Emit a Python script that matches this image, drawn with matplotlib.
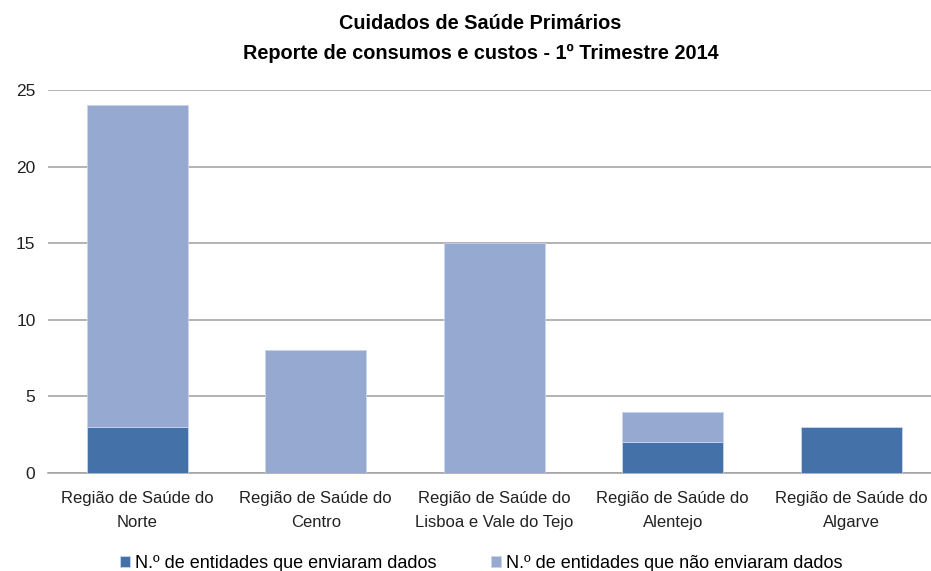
import matplotlib.pyplot as plt
import numpy as np

REGIONS = ['Região de Saúde do\nNorte', 'Região de Saúde do\nCentro',
           'Região de Saúde do\nLisboa e Vale do Tejo', 'Região de Saúde do\nAlentejo',
           'Região de Saúde do\nAlgarve']
ENVIARAM = [3, 0, 0, 2, 3]
NAO_ENVIARAM = [21, 8, 15, 2, 0]
LABELS = ['N.º de entidades que enviaram dados', 'N.º de entidades que não enviaram dados']
COLORS = ['#4472A8', '#95A9D1']
TITLE = 'Cuidados de Saúde Primários\nReporte de consumos e custos - 1º Trimestre 2014'

plt.rcParams['font.family'] = ['Liberation Sans', 'DejaVu Sans']

fig = plt.figure(figsize=(9.31, 5.71), dpi=100)
# plot area runs past the right edge of the picture, as in the reference
ax = fig.add_axes([48 / 931, 98 / 571, 892.5 / 931, 383 / 571])

x = np.arange(len(REGIONS))
b1 = ax.bar(x, ENVIARAM, width=0.566, color=COLORS[0], edgecolor='#C9D4EA', linewidth=0.6,
            label=LABELS[0], zorder=3)
b2 = ax.bar(x, NAO_ENVIARAM, width=0.566, bottom=ENVIARAM, color=COLORS[1], edgecolor='#C9D4EA',
            linewidth=0.6, label=LABELS[1], zorder=3)

ax.set_xlim(-0.5, len(REGIONS) - 0.5)
ax.set_ylim(0, 25)
ax.set_yticks(range(0, 26, 5))
ax.yaxis.grid(True, color='#A6A6A6', linewidth=1.2, zorder=0)
ax.set_axisbelow(True)
for s in ['top', 'right', 'left']:
    ax.spines[s].set_visible(False)
ax.spines['bottom'].set_color('#A6A6A6')
ax.spines['bottom'].set_linewidth(1.2)
ax.tick_params(axis='y', length=0, pad=9, labelsize=12.5, colors='#222222')
ax.tick_params(axis='x', length=0, pad=13, labelsize=12, colors='#222222')
ax.set_xticks(x)
ax.set_xticklabels(REGIONS, linespacing=1.75)

fig.text(0.516, 0.933, TITLE, ha='center', va='center', fontsize=14.3, fontweight='bold',
         linespacing=1.7)

fig.legend(handles=[b1, b2], labels=LABELS, loc='center', bbox_to_anchor=(0.517, 0.014), ncol=2,
           frameon=False, fontsize=13, handlelength=0.55, handleheight=0.55, handletextpad=0.3,
           columnspacing=3.0)

plt.savefig('out.png', dpi=100)
